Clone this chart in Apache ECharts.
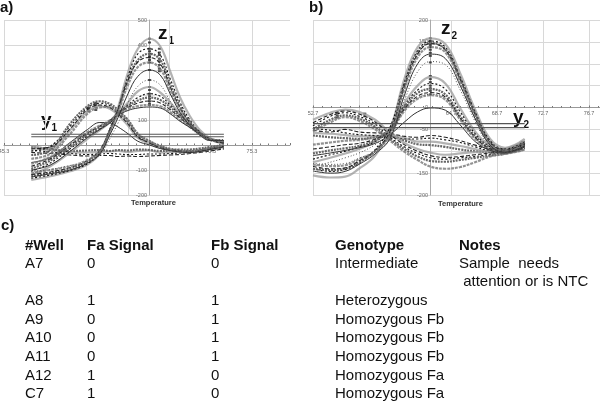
<!DOCTYPE html>
<html>
<head>
<meta charset="utf-8">
<script src="https://cdn.jsdelivr.net/npm/echarts@6/dist/echarts.min.js"></script>
<style>html,body{margin:0;background:#fff}#chart{width:600px;height:402px}</style>
</head>
<body>
<div id="chart"></div>
<script>
// Temperature samples (x) for each panel
const tempA = [48.6,50.9,53.3,55.4,56.9,58.1,59.1,60.3,61.5,62.9,64.2,65.4,66.6,67.8,69.0,70.2,71.9];
const tempB = [52.7,54.2,55.5,56.7,58.1,59.4,60.7,61.8,62.9,64.2,65.5,66.8,68.1,69.4,71.1];

// Panel a, curves
const highA = [
  [-140,-125,-105,-78,-35,55,150,290,385,425,395,295,190,115,60,28,12],
  [-133,-120,-102,-75,-30,58,145,275,365,385,360,265,170,100,52,25,14],
  [-125,-112,-95,-68,-25,60,140,262,340,365,340,245,155,92,50,22,10],
  [-118,-108,-90,-62,-20,62,142,258,332,350,325,232,148,88,46,20,8],
  [-112,-100,-85,-60,-24,52,130,240,312,330,305,220,140,82,44,20,15],
  [-128,-115,-100,-72,-36,40,110,205,275,300,280,205,130,78,40,18,18],
  [-105,-98,-82,-70,-40,25,88,170,235,260,240,175,115,70,38,20,22]
];
const midA = [
  [-120,-85,-30,25,60,90,125,170,215,232,210,170,125,85,48,22,5],
  [-105,-72,-15,35,65,95,128,160,190,205,195,160,120,82,48,22,8],
  [-95,-62,-8,42,70,95,128,155,178,190,180,152,115,80,48,24,10],
  [-85,-55,0,48,75,98,126,150,168,176,168,142,108,76,46,24,12],
  [-75,-48,6,52,78,98,124,144,156,160,155,132,100,72,44,24,15],
  [-100,-80,-25,30,62,88,118,138,148,152,148,125,95,70,44,26,18]
];
const lowA = [
  [-5,-15,60,135,155,145,120,78,28,5,-12,-22,-28,-30,-25,-18,-8],
  [-25,-5,75,148,167,158,130,90,35,10,-8,-20,-25,-25,-20,-15,-5],
  [-40,-20,85,155,175,165,140,100,45,16,-4,-15,-22,-24,-22,-12,-2],
  [-15,-8,65,142,160,150,125,84,32,8,-10,-18,-24,-28,-24,-16,-6],
  [-55,-35,45,125,150,152,132,95,42,14,-5,-18,-26,-28,-22,-14,-4],
  [-70,-50,10,62,90,88,72,45,15,0,-14,-22,-28,-30,-26,-18,-8]
];
const flatA = [
  [-12,-20,-28,-30,-28,-26,-24,-28,-24,-22,-30,-28,-26,-24,-20,-14,-6],
  [-20,-28,-34,-38,-36,-34,-36,-38,-38,-36,-36,-34,-32,-30,-26,-20,-12],
  [-8,-16,-24,-22,-20,-24,-20,-22,-18,-20,-24,-22,-18,-18,-14,-8,0],
  [-30,-34,-40,-44,-42,-42,-46,-44,-46,-44,-42,-40,-38,-34,-30,-24,-16]
];
const thresholdA = [43, 33];
const peakDotsA = [
  [62.9,[425,410,385,375,365,355,350,340,330,300,260,232,220,205,195,185,175,165,160]],
  [64.1,[385,370,360,345,335,320,305,295]],
  [55.5,[150,142,135]],
  [56.4,[168,160,150,140]]
];

// Panel b, curves
const highB = [
  [-155,-160,-158,-140,-110,-50,70,138,158,145,78,-5,-72,-92,-72],
  [-140,-146,-142,-128,-96,-45,62,130,152,138,70,-10,-76,-95,-78],
  [-140,-143,-140,-125,-100,-57,55,125,148,133,65,-15,-80,-97,-80],
  [-135,-140,-138,-122,-98,-55,52,122,146,132,64,-16,-80,-98,-82],
  [-130,-134,-132,-118,-100,-62,45,115,138,126,58,-20,-84,-100,-86],
  [-145,-150,-146,-130,-106,-70,32,100,122,112,50,-26,-86,-102,-88],
  [-128,-130,-128,-116,-102,-72,20,82,105,98,40,-32,-90,-104,-92]
];
const midB = [
  [-125,-115,-105,-95,-78,-48,12,50,70,55,-2,-55,-88,-98,-80],
  [-118,-108,-100,-90,-78,-50,6,40,55,42,-10,-60,-90,-100,-84],
  [-105,-98,-93,-88,-75,-50,3,33,42,30,-20,-65,-92,-100,-88],
  [-95,-90,-85,-82,-72,-52,-2,26,34,24,-24,-68,-95,-102,-92],
  [-85,-80,-76,-74,-68,-54,-6,20,28,18,-28,-72,-98,-105,-96],
  [-110,-104,-98,-92,-82,-62,-32,-10,-1,-6,-40,-78,-98,-104,-90],
  [-135,-125,-115,-104,-85,-58,0,22,30,22,-26,-70,-96,-104,-94]
];
const lowB = [
  [-28,-12,-5,-10,-28,-58,-82,-95,-103,-108,-105,-102,-100,-95,-78],
  [-42,-20,-12,-20,-38,-68,-91,-105,-115,-118,-115,-112,-107,-103,-88],
  [-50,-28,-18,-25,-44,-72,-96,-112,-122,-124,-120,-115,-110,-105,-92],
  [-35,-16,-8,-15,-33,-62,-86,-100,-110,-114,-112,-108,-104,-100,-84],
  [-55,-34,-22,-30,-50,-76,-102,-120,-135,-140,-136,-125,-112,-106,-96]
];
const flatB = [
  [-58,-60,-63,-66,-65,-63,-70,-78,-78,-82,-88,-95,-100,-100,-82],
  [-48,-52,-58,-62,-64,-66,-72,-72,-70,-74,-80,-90,-98,-98,-78],
  [-64,-68,-70,-72,-68,-66,-76,-84,-86,-90,-96,-100,-102,-102,-86],
  [-52,-56,-50,-56,-58,-60,-66,-68,-64,-68,-76,-86,-94,-94,-74]
];
const thresholdB = [-37, -46];
const peakDotsB = [
  [62.9,[158,152,148,143,138,132,125,118,103,72,65,58,50,44,38,30]],
  [54.8,[-13,-18,-23]],
  [57.2,[-14,-20]]
];

// Table c)
const tableHeader = ['#Well','Fa Signal','Fb Signal','Genotype','Notes'];
const wells = ['A7','A8','A9','A10','A11','A12','C7'];
const faSignal = ['0','1','0','0','0','1','1'];
const fbSignal = ['0','1','1','1','1','0','0'];
const genotypes = ['Intermediate','Heterozygous','Homozygous Fb','Homozygous Fb','Homozygous Fb','Homozygous Fa','Homozygous Fa'];
const notesLines = ['Sample  needs',' attention or is NTC'];

// axis ticks sit on x.3 / x.7, so the axes run on whole numbers and labels add this back
const fracA = 0.3;
const fracB = 0.7;

const FONT = '"Liberation Sans", Arial, sans-serif';
const chart = echarts.init(document.getElementById('chart'));

// rough mix of the instrument's line styles
const estilos = [
  { color: '#999', width: 2.2, type: 'solid', opacity: 0.75 },
  { color: '#111', width: 1.1, type: [2, 2] },
  { color: '#666', width: 2.2, type: [2, 1] },
  { color: '#222', width: 1.1, type: [4, 2] },
  { color: '#777', width: 2.2, type: [3, 1], opacity: 0.8 },
  { color: '#333', width: 1, type: 'solid' },
  { color: '#555', width: 1, type: [1, 2] }
];

function curvas(lista, temps, frac, idx) {
  return lista.map((valores, i) => ({
    type: 'line',
    xAxisIndex: idx,
    yAxisIndex: idx,
    smooth: 0.4,
    showSymbol: false,
    silent: true,
    lineStyle: estilos[i % estilos.length],
    data: valores.map((v, k) => [temps[k] - frac, v])
  }));
}

function limiares(lista, temps, frac, idx) {
  return lista.map(v => ({
    type: 'line',
    xAxisIndex: idx,
    yAxisIndex: idx,
    showSymbol: false,
    silent: true,
    lineStyle: { color: '#555', width: 1.2 },
    data: [[temps[0] - frac, v], [temps[temps.length - 1] - frac, v]]
  }));
}

function pontos(lista, frac, idx) {
  return lista.map(([t, vals]) => ({
    type: 'scatter',
    xAxisIndex: idx,
    yAxisIndex: idx,
    symbol: 'rect',
    symbolSize: [3, 2],
    silent: true,
    itemStyle: { color: '#222' },
    data: vals.map(v => [t - frac, v])
  }));
}

function eixoX(idx, min, max, step, frac, margem, hide) {
  return {
    type: 'value', gridIndex: idx, min, max, interval: step,
    axisLine: { show: true, onZero: true, lineStyle: { color: '#999', width: 1 } },
    axisTick: { show: true, length: 2, inside: true, lineStyle: { color: '#777' } },
    minorTick: { show: true, splitNumber: 5, length: 1.5, lineStyle: { color: '#777' } },
    splitLine: { show: true, showMaxLine: false, lineStyle: { color: '#d8d8d8', width: 1 } },
    axisLabel: {
      fontSize: 5.5, color: '#666', fontFamily: FONT, margin: margem,
      showMinLabel: true, showMaxLabel: false,
      formatter: v => hide.includes(v) ? '' : (v + frac).toFixed(1)
    }
  };
}

function eixoY(idx, min, max, step, offset, hide) {
  return {
    type: 'value', gridIndex: idx, min, max, interval: step, offset,
    axisLine: { show: true, onZero: false, lineStyle: { color: '#aaa', width: 1 } },
    axisTick: { show: false },
    splitLine: { show: true, lineStyle: { color: '#d8d8d8', width: 1 } },
    axisLabel: {
      fontSize: 5.5, color: '#666', fontFamily: FONT, margin: 2,
      formatter: v => hide.includes(v) ? '' : String(v)
    }
  };
}

function texto(x, y, text, size, bold, extra) {
  return {
    type: 'text', x, y, silent: true,
    style: Object.assign({
      text, fontSize: size, fontFamily: FONT, fontWeight: bold ? 'bold' : 'normal',
      fill: '#111', textVerticalAlign: 'middle'
    }, extra || {})
  };
}

function rotulo(x, y, letra, sub) {
  return [texto(x, y, letra, 19, true), texto(x + 10.5, y + 7, sub, 10, true)];
}

// table built from the arrays above
const colX = [25, 87, 211, 335, 459];
const rowY = [246, 264, 301, 320, 338, 357, 376, 394];
const tabela = [];
tableHeader.forEach((h, i) => tabela.push(texto(colX[i], rowY[0], h, 15, true)));
wells.forEach((w, i) => {
  const y = rowY[i + 1];
  tabela.push(texto(colX[0], y, w, 15));
  tabela.push(texto(colX[1], y, faSignal[i], 15));
  tabela.push(texto(colX[2], y, fbSignal[i], 15));
  tabela.push(texto(colX[3], y, genotypes[i], 15));
});
tabela.push(texto(colX[4], rowY[1], notesLines[0], 15));
tabela.push(texto(colX[4], 282, notesLines[1], 15));

chart.setOption({
  animation: false,
  backgroundColor: '#fff',
  grid: [
    { left: 4, top: 20, width: 286, height: 175, outerBoundsMode: 'none' },
    { left: 313, top: 20, width: 287, height: 175, outerBoundsMode: 'none' }
  ],
  xAxis: [
    eixoX(0, 45, 79.6, 5, fracA, -47, [50, 55, 60, 65]),
    eixoX(1, 52, 76.95, 4, fracB, -85, [56, 60])
  ],
  yAxis: [
    eixoY(0, -200, 500, 100, -145, [0, 200, 300]),
    eixoY(1, -200, 200, 50, -117, [100, 50, -100])
  ],
  series: [
    ...curvas(flatA, tempA, fracA, 0),
    ...curvas(lowA, tempA, fracA, 0),
    ...curvas(midA, tempA, fracA, 0),
    ...curvas(highA, tempA, fracA, 0),
    ...limiares(thresholdA, tempA, fracA, 0),
    ...pontos(peakDotsA, fracA, 0),
    ...curvas(flatB, tempB, fracB, 1),
    ...curvas(lowB, tempB, fracB, 1),
    ...curvas(midB, tempB, fracB, 1),
    ...curvas(highB, tempB, fracB, 1),
    ...limiares(thresholdB, tempB, fracB, 1),
    ...pontos(peakDotsB, fracB, 1)
  ],
  graphic: [
    texto(0, 8, 'a)', 15, true),
    texto(309, 8, 'b)', 15, true),
    texto(1, 226, 'c)', 15, true),
    texto(131, 203, 'Temperature', 7.5, true, { fill: '#333' }),
    texto(438, 204, 'Temperature', 7.5, true, { fill: '#333' }),
    ...rotulo(158, 34, 'z', '1'),
    ...rotulo(41, 121, 'y', '1'),
    ...rotulo(441, 29, 'z', '2'),
    ...rotulo(513, 118, 'y', '2'),
    ...tabela
  ]
});
</script>
</body>
</html>
